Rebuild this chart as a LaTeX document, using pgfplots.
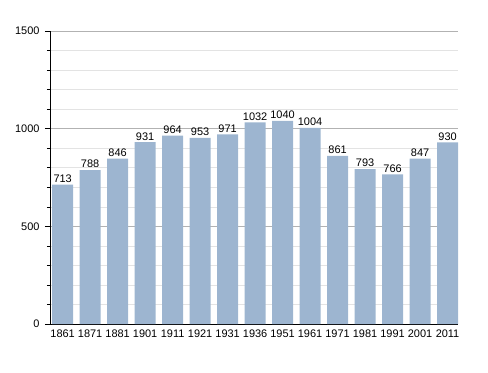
\documentclass[border=0pt]{standalone}
\usepackage{pgfplots}
\pgfplotsset{compat=1.18}
\usepackage{fontspec}
\setmainfont{Liberation Sans}
\definecolor{barc}{HTML}{9DB5D0}
\begin{document}
\begin{tikzpicture}
\begin{axis}[
  name=ax,
  scale only axis,
  width=408bp, height=293bp,
  xmin=-0.46, xmax=14.38,
  ymin=0, ymax=1500,
  axis x line*=bottom,
  axis y line*=left,
  axis line style={black, line width=0.8pt},
  ytick={0,500,1000,1500},
  minor ytick={100,200,300,400,600,700,800,900,1100,1200,1300,1400},
  ymajorgrids, yminorgrids,
  major grid style={color=black!30, line width=0.6pt},
  minor grid style={color=black!11, line width=0.6pt},
  tick align=outside,
  major tick length=5bp,
  minor tick length=3bp,
  tick style={black, line width=0.6pt},
  xtick=data,
  xtick style={draw=none},
  xticklabels={1861,1871,1881,1901,1911,1921,1931,1936,1951,1961,1971,1981,1991,2001,2011},
  ticklabel style={font=\fontsize{11}{13}\selectfont},
  /pgf/number format/assume math mode=true,
  /pgf/number format/1000 sep={},
  xticklabel style={yshift=3bp},
  yticklabel style={xshift=-2bp},
  ybar, bar width=21bp,
  nodes near coords,
  every node near coord/.append style={font=\fontsize{11}{13}\selectfont, black, yshift=-1.5bp},
  clip=false,
]
\addplot[fill=barc, draw=none] coordinates {
(0,713) (1,788) (2,846) (3,931) (4,964) (5,953) (6,971) (7,1032) (8,1040) (9,1004) (10,861) (11,793) (12,766) (13,847) (14,930)
};
\coordinate (ll) at (rel axis cs:0,0);
\end{axis}
\path[use as bounding box] (ll) ++(-50bp,-49bp) rectangle ++(488bp,373bp);
\end{tikzpicture}
\end{document}
